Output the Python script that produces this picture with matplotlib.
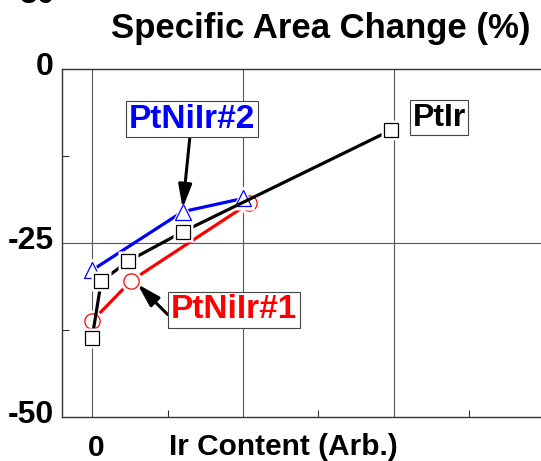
import numpy as np
import matplotlib
matplotlib.use("Agg")
import matplotlib.pyplot as plt
from matplotlib.transforms import ScaledTranslation

plt.rcParams["font.family"] = ["Liberation Sans", "DejaVu Sans"]
plt.rcParams["font.weight"] = "bold"

# ── data ────────────────────────────────────────────────────
ptir_x = [0.0, 0.06, 0.24, 0.60, 1.98]
ptir_y = [-38.6, -30.5, -27.6, -23.4, -8.8]

ptniir2_x = [0.0, 0.60, 1.00]
ptniir2_y = [-28.9, -20.5, -18.6]

ptniir1_x = [0.0, 0.26, 1.04]
ptniir1_y = [-36.2, -30.4, -19.3]

y_ticks = [0, -25, -50]
y_ticklabels = ["0", "-25", "-50"]
x_ticks = [0, 1, 2, 3]

W, H = 541, 461
fig = plt.figure(figsize=(W / 100, H / 100), dpi=100)
ax = fig.add_axes([62 / W, (H - 417) / H, (544.6 - 62) / W, (417 - 69) / H])
ax.set_xlim(-0.2, 3.0)
ax.set_ylim(-50, 0)

# grid + ticks
for xv in x_ticks:
    ax.axvline(xv, color="#555555", lw=0.8, zorder=0)
ax.axhline(-25, color="#555555", lw=0.8, zorder=0)
for s in ax.spines.values():
    s.set_color("#333333")
    s.set_linewidth(1.0)

ax.set_yticks(y_ticks)
ax.set_yticklabels(y_ticklabels, fontsize=23, fontweight="bold")
ax.set_yticks([-12.5, -37.5], minor=True)
ax.set_xticks([0])
ax.set_xticklabels(["0"], fontsize=21.5, fontweight="bold")
ax.set_xticks([0.5, 1.5, 2.5], minor=True)
ax.tick_params(axis="both", which="major", direction="in", length=0)
ax.tick_params(axis="y", which="major", pad=6)
ax.tick_params(axis="x", which="major", pad=12)
ax.tick_params(axis="both", which="minor", direction="in", length=5, width=0.8,
               color="#333333")
for lab in ax.get_yticklabels():
    lab.set_transform(lab.get_transform() + ScaledTranslation(0, 4 / 72, fig.dpi_scale_trans))
for lab in ax.get_xticklabels():
    lab.set_transform(lab.get_transform() + ScaledTranslation(3 / 72, 0, fig.dpi_scale_trans))


def series(x, y, color, marker, ms, z):
    ax.plot(x, y, color=color, lw=2.3, zorder=z, solid_capstyle="butt")
    ax.plot(x, y, ls="none", marker=marker, ms=ms + 5, mfc="white", mec="none", zorder=z + 0.1)
    ax.plot(x, y, ls="none", marker=marker, ms=ms, mfc="none", mec=color, mew=0.9, zorder=z + 0.2)


series(ptniir1_x, ptniir1_y, "#ff0000", "o", 11, 2)
series(ptniir2_x, ptniir2_y, "#0000ff", "^", 12, 3)
series(ptir_x, ptir_y, "black", "s", 10, 4)

box = dict(boxstyle="square,pad=0.08", fc="white", ec="#444444", lw=0.8)
arrow = dict(arrowstyle="-|>,head_length=1.4,head_width=0.4", color="black", lw=2.2,
             shrinkA=0, shrinkB=0, mutation_scale=10)

ax.annotate("PtNiIr#2", xy=(0.60, -20.0), xytext=(0.66, -7.2), fontsize=24,
            fontweight="bold", color="#0000ff", ha="center", va="center",
            bbox=box, arrowprops=arrow, zorder=6)
ax.annotate("PtNiIr#1", xy=(0.30, -30.9), xytext=(0.94, -34.6), fontsize=24,
            fontweight="bold", color="#ff0000", ha="center", va="center",
            bbox=box, arrowprops=dict(arrow, relpos=(0.06, 0.0)), zorder=6)
ax.text(2.3, -7.0, "PtIr", fontsize=23, fontweight="bold", color="black",
        ha="center", va="center", bbox=box, zorder=6)

fig.text(321 / W, 1 - 38 / H, "Specific Area Change (%)", fontsize=25,
         fontweight="bold", ha="center", va="baseline")
fig.text(283 / W, 1 - 455 / H, "Ir Content (Arb.)", fontsize=21.5,
         fontweight="bold", ha="center", va="baseline")
fig.text(55 / W, 1 - 3 / H, "50", fontsize=23, fontweight="bold",
         ha="right", va="baseline")

fig.savefig("out.png", dpi=100)
